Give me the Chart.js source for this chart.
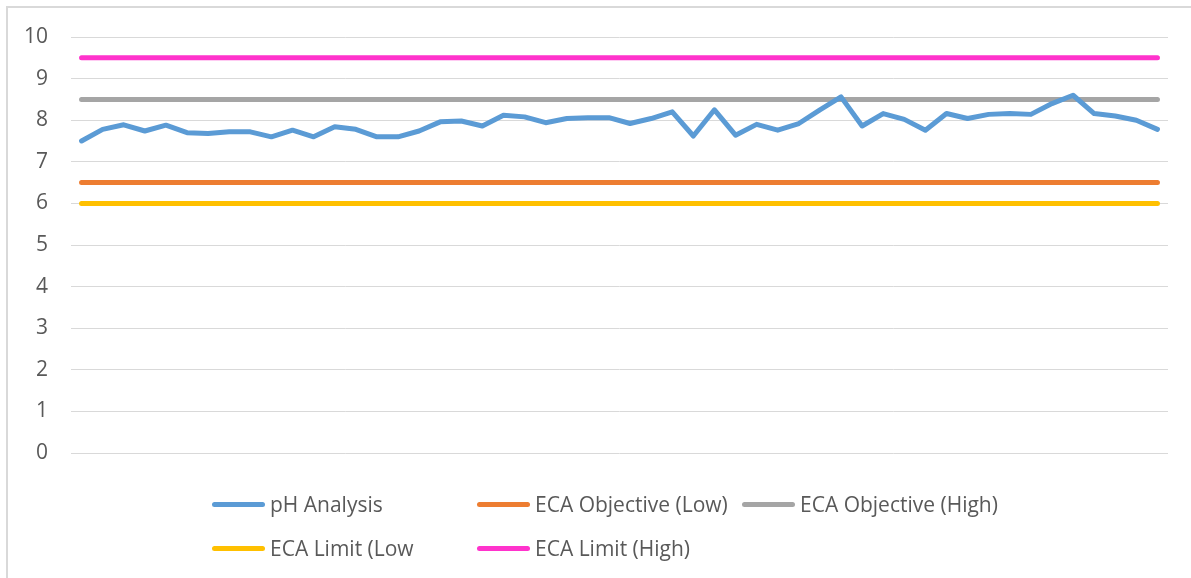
<!DOCTYPE html>
<html>
<head>
<meta charset="utf-8">
<script src="https://cdn.jsdelivr.net/npm/chart.js@4.4.1/dist/chart.umd.min.js"></script>
<style>
  html, body { margin: 0; padding: 0; background: #ffffff; }
  #wrap { position: relative; width: 1191px; height: 578px; overflow: hidden; }
  #frame { position: absolute; left: 6px; top: 6px; width: 1200px; height: 600px;
           border-left: 2px solid #d9d9d9; border-top: 2px solid #d9d9d9; box-sizing: border-box; }
  canvas { position: absolute; left: 0; top: 0; }
  #legend { position: absolute; left: 0; top: 0; width: 1191px; height: 578px; pointer-events: none;
            font-family: "Open Sans", sans-serif; font-size: 21px; color: #595959; }
  .item { position: absolute; display: flex; align-items: center; white-space: nowrap; }
  .swatch { width: 53px; height: 5px; border-radius: 3px; margin-right: 5px; }
</style>
</head>
<body>
<div id="wrap">
  <div id="frame"></div>
  <canvas id="c" width="1191" height="578"></canvas>
  <div id="legend"></div>
</div>
<script>
// ---- data ----
const categories = ['1','2','3','4','5','6','7','8','9','10','11','12','13','14','15','16','17','18','19','20',
  '21','22','23','24','25','26','27','28','29','30','31','32','33','34','35','36','37','38','39','40',
  '41','42','43','44','45','46','47','48','49','50','51','52'];
const phAnalysis = [7.50, 7.78, 7.89, 7.74, 7.88, 7.70, 7.68, 7.72, 7.72, 7.60,
  7.76, 7.60, 7.84, 7.78, 7.60, 7.60, 7.74, 7.96, 7.98, 7.86,
  8.12, 8.08, 7.94, 8.04, 8.06, 8.06, 7.92, 8.04, 8.20, 7.62,
  8.25, 7.64, 7.90, 7.76, 7.92, 8.25, 8.56, 7.86, 8.16, 8.02,
  7.76, 8.16, 8.04, 8.14, 8.16, 8.14, 8.40, 8.60, 8.16, 8.10,
  8.00, 7.78];
const objectiveLow = 6.5;
const objectiveHigh = 8.5;
const limitLow = 6.0;
const limitHigh = 9.5;
const seriesNames = ['pH Analysis', 'ECA Objective (Low)', 'ECA Objective (High)', 'ECA Limit (Low', 'ECA Limit (High)'];
const yTicks = [0, 1, 2, 3, 4, 5, 6, 7, 8, 9, 10];

const colors = ['#5B9BD5', '#ED7D31', '#A5A5A5', '#FFC000', '#FF33CC'];
const seriesData = [
  phAnalysis,
  categories.map(() => objectiveLow),
  categories.map(() => objectiveHigh),
  categories.map(() => limitLow),
  categories.map(() => limitHigh)
];

const datasets = seriesNames.map((name, i) => ({
  label: name,
  data: seriesData[i],
  borderColor: colors[i],
  backgroundColor: colors[i],
  borderWidth: 5,
  pointRadius: 0,
  pointHoverRadius: 0,
  tension: 0,
  fill: false,
  borderCapStyle: 'round',
  borderJoinStyle: 'round'
}));

const chart = new Chart(document.getElementById('c'), {
  type: 'line',
  data: { labels: categories, datasets },
  options: {
    responsive: false,
    animation: false,
    events: [],
    layout: { padding: { left: 0, right: 23, top: 37, bottom: 125 } },
    plugins: { legend: { display: false }, tooltip: { enabled: false } },
    scales: {
      x: {
        type: 'category',
        offset: true,
        display: false
      },
      y: {
        min: 0, max: 10,
        afterBuildTicks: (scale) => { scale.ticks = yTicks.map(v => ({ value: v })); },
        afterFit: (scale) => { scale.width = 71; },
        border: { display: false },
        grid: { color: '#d9d9d9', lineWidth: 1, drawTicks: false },
        ticks: {
          padding: 23,
          color: '#595959',
          font: { family: '"Open Sans", sans-serif', size: 21 }
        }
      }
    }
  }
});

// ---- legend (HTML, built from the datasets) ----
const legend = document.getElementById('legend');
const legendCols = [212, 477, 742];
const legendRows = [504, 548];
chart.data.datasets.forEach((ds, i) => {
  const item = document.createElement('div');
  item.className = 'item';
  const row = Math.floor(i / 3), col = i % 3;
  item.style.left = legendCols[col] + 'px';
  item.style.top = (legendRows[row] - 15) + 'px';
  item.style.height = '30px';
  const sw = document.createElement('span');
  sw.className = 'swatch';
  sw.style.background = ds.borderColor;
  const tx = document.createElement('span');
  tx.textContent = ds.label;
  item.appendChild(sw);
  item.appendChild(tx);
  legend.appendChild(item);
});
</script>
</body>
</html>
